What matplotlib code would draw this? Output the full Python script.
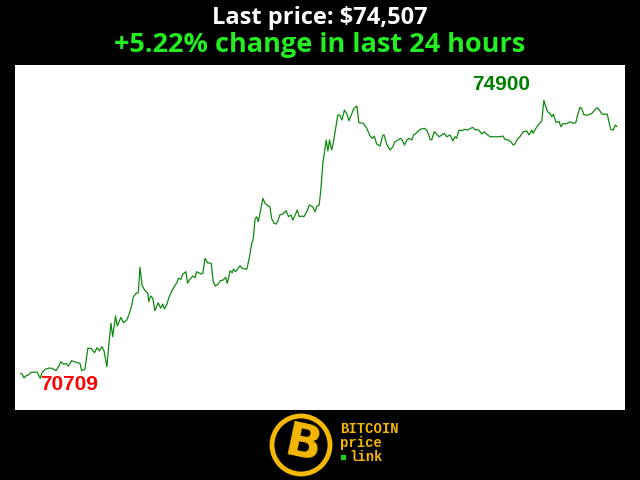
import matplotlib
matplotlib.use('Agg')
from matplotlib import pyplot as plt
from matplotlib.patches import Circle

# minutes since start of the 24 h window
minutes = [0, 3, 8, 13, 18, 25, 39, 43, 47, 51, 59, 69, 75, 85, 91, 97, 103, 109, 115, 123,
           131, 143, 147, 155, 162, 170, 178, 184, 190, 196, 201, 208, 213, 218, 222, 229, 233, 242, 248, 256,
           262, 268, 272, 279, 284, 288, 293, 299, 307, 309, 314, 319, 324, 332, 338, 343, 347, 353, 358, 367,
           377, 381, 387, 391, 399, 403, 409, 416, 421, 425, 435, 440, 445, 451, 460, 465, 470, 477, 482, 489,
           495, 499, 506, 511, 514, 519, 524, 530, 535, 546, 552, 558, 562, 566, 570, 574, 578, 585, 590, 598,
           602, 606, 612, 617, 621, 626, 633, 641, 647, 653, 657, 663, 668, 673, 679, 684, 691, 697, 705, 711,
           715, 721, 725, 730, 734, 738, 742, 746, 751, 755, 766, 771, 776, 782, 788, 793, 800, 805, 812, 817,
           828, 836, 844, 850, 854, 860, 868, 875, 878, 884, 892, 899, 904, 912, 918, 923, 927, 933, 938, 945,
           949, 955, 965, 975, 981, 985, 989, 993, 999, 1005, 1011, 1017, 1023, 1029, 1037, 1044, 1049, 1053, 1059, 1065,
           1073, 1080, 1087, 1092, 1098, 1102, 1108, 1114, 1120, 1126, 1134, 1150, 1158, 1165, 1170, 1178, 1184, 1190, 1194, 1200,
           1206, 1214, 1223, 1228, 1235, 1238, 1247, 1259, 1264, 1268, 1273, 1279, 1283, 1287, 1293, 1301, 1305, 1311, 1317, 1323,
           1327, 1334, 1341, 1346, 1351, 1355, 1361, 1371, 1380, 1388, 1393, 1398, 1404, 1412, 1417, 1422, 1426, 1432, 1436, 1440]

prices = [70784, 70774, 70716, 70748, 70759, 70799, 70804, 70759, 70709, 70793,
          70845, 70864, 70860, 70824, 70884, 70959, 70920, 70935, 70894, 70974,
          70955, 70935, 70824, 70845, 71161, 71161, 71095, 71170, 71121, 71186,
          71125, 70884, 71237, 71538, 71336, 71648, 71498, 71629, 71547, 71588,
          71679, 71810, 71940, 71991, 72000, 72383, 72116, 72041, 71991, 71864,
          71950, 71915, 71728, 71849, 71765, 71829, 71754, 71825, 71930, 72051,
          72151, 72217, 72202, 72277, 72317, 72142, 72206, 72252, 72226, 72317,
          72282, 72292, 72519, 72452, 72443, 72166, 72101, 72131, 72181, 72191,
          72232, 72142, 72332, 72301, 72357, 72317, 72357, 72407, 72368, 72353,
          72519, 72745, 72820, 73107, 73146, 73071, 73197, 73423, 73348, 73307,
          73297, 73122, 73046, 73036, 73081, 73172, 73187, 73236, 73146, 73172,
          73096, 73172, 73247, 73146, 73156, 73146, 73221, 73322, 73297, 73221,
          73297, 73322, 73549, 73951, 74126, 74303, 74137, 74303, 74152, 74253,
          74680, 74680, 74604, 74755, 74695, 74594, 74705, 74781, 74815, 74563,
          74554, 74479, 74363, 74328, 74363, 74242, 74212, 74378, 74378, 74242,
          74152, 74202, 74277, 74303, 74328, 74287, 74227, 74303, 74328, 74303,
          74378, 74404, 74464, 74479, 74453, 74393, 74313, 74303, 74428, 74389,
          74352, 74378, 74404, 74352, 74378, 74292, 74352, 74328, 74453, 74443,
          74464, 74453, 74479, 74494, 74453, 74464, 74443, 74393, 74428, 74389,
          74352, 74352, 74352, 74363, 74313, 74303, 74277, 74227, 74242, 74313,
          74352, 74428, 74438, 74378, 74453, 74404, 74503, 74594, 74900, 74815,
          74729, 74705, 74654, 74690, 74569, 74579, 74503, 74554, 74544, 74563,
          74579, 74554, 74563, 74690, 74796, 74781, 74680, 74680, 74705, 74765,
          74790, 74755, 74695, 74690, 74695, 74554, 74464, 74453, 74529, 74507]

last_price = 74507
change_pct = 5.22

lo = min(prices)
hi = max(prices)
i_lo = prices.index(lo)
i_hi = prices.index(hi)

fig = plt.figure(figsize=(6.4, 4.8), dpi=100, facecolor='black')

fig.text(0.5, 0.962, f'Last price: ${last_price:,}', color='white', fontsize=17,
         fontweight='bold', family='Open Sans', ha='center', va='center')
fig.text(0.5, 0.907, f'+{change_pct:.2f}% change in last 24 hours', color='#22ee22', fontsize=19.5,
         fontweight='bold', family='Open Sans', ha='center', va='center')

ax = fig.add_axes([15 / 640, 70 / 480, 610 / 640, 345 / 480])
ax.set_facecolor('white')
ax.plot(minutes, prices, color='#118811', linewidth=0.9)
ax.set_xlim(-14, 1460)
ax.set_ylim(70231, 75434)
ax.set_xticks([])
ax.set_yticks([])
for s in ax.spines.values():
    s.set_visible(False)

ax.annotate(str(lo), (minutes[i_lo], lo), xytext=(0, 3), textcoords='offset pixels',
            color='red', fontsize=15, fontweight='bold', family='Liberation Sans',
            ha='left', va='top')
ax.annotate(str(hi), (minutes[i_hi], hi), xytext=(-14, 6), textcoords='offset pixels',
            color='green', fontsize=15, fontweight='bold', family='Liberation Sans',
            ha='right', va='bottom')

# logo
gold = '#f5b800'
lx = fig.add_axes([260 / 640, 0, 150 / 640, 70 / 480])
lx.set_xlim(0, 150)
lx.set_ylim(0, 70)
lx.set_aspect('equal')
lx.axis('off')
lx.add_patch(Circle((41, 35), 29, fill=False, edgecolor=gold, linewidth=3.5))
lx.text(43, 34, 'B', color=gold, fontsize=34, fontweight='bold', family='DejaVu Sans',
        ha='center', va='center', rotation=-12)
for txt, xx, yy in [('BITCOIN', 80, 51), ('price', 80, 37), ('link', 89, 23)]:
    lx.text(xx, yy, txt, color=gold, fontsize=10, fontweight='bold', family='Liberation Mono',
            ha='left', va='center')
lx.plot([83], [23], marker='s', markersize=3, color='#22cc22', linestyle='none')

fig.savefig('out.png', dpi=100, facecolor='black')
